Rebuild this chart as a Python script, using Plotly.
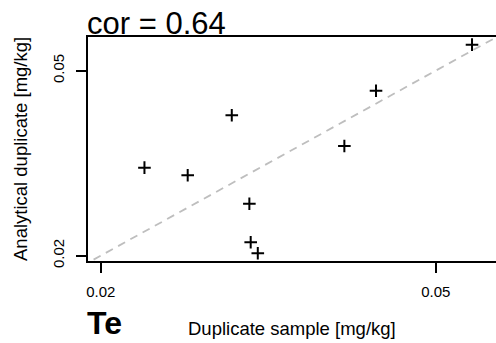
import numpy as np
import plotly.graph_objects as go

# Data (mg/kg)
duplicate_sample = [0.02254, 0.02537, 0.02862, 0.03003, 0.03014, 0.03073, 0.03894, 0.04246, 0.05521]
analytical_duplicate = [0.03093, 0.02978, 0.04009, 0.02587, 0.02137, 0.02024, 0.03443, 0.04527, 0.05686]
tick_vals = [0.02, 0.05]
tick_text = ["0.02", "0.05"]
element = "Te"
cor_text = "cor = 0.64"
line_ref = [0.015, 0.07]

fig = go.Figure()
fig.add_trace(go.Scatter(x=line_ref, y=line_ref, mode="lines",
                         line=dict(color="#bebebe", width=1.8, dash="8px,6px"),
                         hoverinfo="skip", showlegend=False))
fig.add_trace(go.Scatter(x=duplicate_sample, y=analytical_duplicate, mode="markers",
                         marker=dict(symbol="cross-thin", size=9, color="black",
                                     line=dict(color="black", width=2)),
                         showlegend=False, cliponaxis=False))

font = "Liberation Sans, Arial, sans-serif"
# plot area at x 88..496, y 37..261 (page body margin removed below)
fig.update_layout(
    width=496, height=343,
    margin=dict(l=88, r=0, t=37, b=82),
    paper_bgcolor="white", plot_bgcolor="white",
    font=dict(family=font, color="black"),
    xaxis=dict(type="log", range=[-1.7141, -1.2295], tickvals=tick_vals, ticktext=tick_text,
               showgrid=False, zeroline=False, showline=True, linecolor="black", linewidth=2,
               mirror=True, ticks="outside", ticklen=10, tickwidth=2, tickcolor="black",
               tickfont=dict(size=15), ticklabelstandoff=6),
    yaxis=dict(type="log", range=[-1.7104, -1.2287], tickvals=tick_vals, ticktext=tick_text,
               showgrid=False, zeroline=False, showline=True, linecolor="black", linewidth=2,
               mirror=False, ticks="outside", ticklen=10, tickwidth=2, tickcolor="black",
               tickfont=dict(size=15), tickangle=-90, ticklabelstandoff=6),
    annotations=[
        dict(text=cor_text, xref="paper", yref="paper", x=0, y=1, xanchor="left", yanchor="bottom",
             showarrow=False, font=dict(size=31), xshift=-3, yshift=-6),
        dict(text="<b>" + element + "</b>", xref="paper", yref="paper", x=0, y=0,
             xanchor="left", yanchor="middle", showarrow=False, font=dict(size=32),
             xshift=-3, yshift=-62),
        dict(text="Duplicate sample [mg/kg]", xref="paper", yref="paper", x=0.5, y=0,
             xanchor="center", yanchor="middle", showarrow=False, font=dict(size=18.5),
             yshift=-67),
        dict(text="Analytical duplicate [mg/kg]", xref="paper", yref="paper", x=0, y=0.5,
             xanchor="center", yanchor="middle", showarrow=False, font=dict(size=18.5),
             textangle=-90, xshift=-68),
    ],
)

fig.write_html("out.html", config={"displayModeBar": False},
               post_script="document.body.style.margin='0';")
